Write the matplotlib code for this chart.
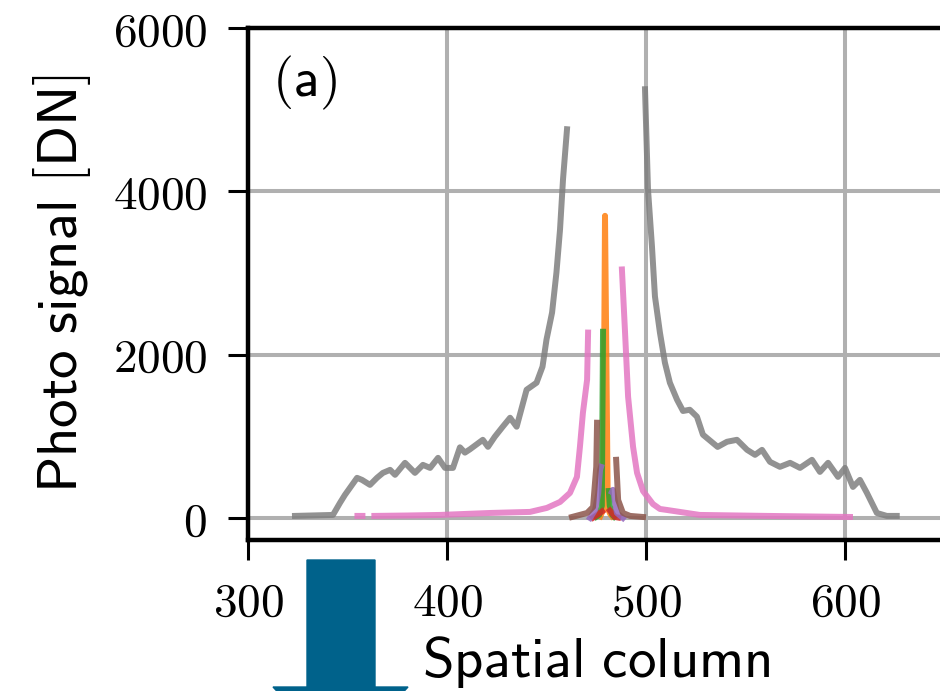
import numpy as np
import matplotlib
matplotlib.use('Agg')
from matplotlib import pyplot as plt
from matplotlib.patches import Polygon

nan = np.nan

# profiles (spatial column, photo signal in DN); nan = masked core
gray_x = [323.6, 342.7, 346.2, 348.7, 354.8, 357.3, 361.3, 364.8, 367.8, 371.4, 373.9, 378.9, 383.9,
          387.9, 391.5, 395.5, 399.0, 403.0, 406.5, 409.0, 411.5, 418.0, 420.6, 424.0, 428.0, 431.7,
          435.0, 440.0, 445.0, 448.0, 450.0, 452.8, 455.0, 456.8, 458.3, 460.3, nan,
          499.5, 501.0, 503.0, 504.5, 507.0, 509.5, 512.0, 515.6, 518.6, 522.0, 525.6, 528.6, 536.0,
          540.7, 545.7, 550.8, 554.8, 558.3, 562.3, 567.3, 572.4, 577.4, 583.4, 587.4, 591.5, 596.5,
          600.0, 604.0, 607.5, 611.0, 616.0, 621.0, 626.0]
gray_y = [25, 37, 184, 282, 491, 466, 405, 491, 552, 589, 528, 675, 552,
          650, 613, 736, 613, 613, 865, 800, 840, 957, 871, 994, 1117, 1227,
          1117, 1570, 1656, 1853, 2184, 2515, 3006, 3534, 4147, 4760, nan,
          5250, 4025, 3325, 2712, 2270, 1902, 1656, 1448, 1310, 1325, 1240, 1020, 870,
          933, 957, 834, 773, 834, 687, 626, 675, 613, 712, 564, 675, 503,
          613, 380, 466, 307, 61, 25, 25]

pink_x = [355.0, 357.5, nan, 363.5, 380.0, 396.5, 421.6, 441.7, 450.2, 456.8, 461.8, 465.3, 466.8,
          468.3, 470.4, 470.9, nan, 487.9, 489.4, 491.0, 493.5, 495.5, 498.5, 503.5, 507.0, 510.5,
          527.0, 560.8, 602.5]
pink_y = [25, 25, nan, 25, 30, 37, 61, 74, 123, 196, 307, 503, 871,
          1288, 1693, 2270, nan, 3043, 2307, 1485, 871, 552, 330, 170, 110, 98,
          37, 25, 12]

orange_x = [477.0, 478.5, 479.4, 480.8, 482.0, 483.0]
orange_y = [20, 100, 3700, 120, 50, 20]

green_x = [475.0, 476.5, 477.8, 478.4, nan, 481.3, 481.8, 483.0, 484.0]
green_y = [15, 40, 150, 2280, nan, 330, 150, 40, 15]

red_x = [473.5, 475.4, 477.9, nan, 481.9, 484.4, 486.0]
red_y = [5, 37, 80, nan, 90, 12, 5]

purple_x = [471.9, 474.4, 476.0, 476.9, 477.4, nan, 482.9, 483.4, 485.4, 488.4]
purple_y = [0, 98, 300, 589, 626, nan, 319, 344, 61, 0]

brown_x = [462.8, 470.4, 473.4, 475.0, 475.4, nan, 485.0, 486.0, 488.4, 492.0, 498.5]
brown_y = [12, 61, 135, 626, 1166, nan, 712, 220, 61, 25, 12]

series = [
    (orange_x, orange_y, 'tab:orange'),
    (green_x, green_y, 'tab:green'),
    (red_x, red_y, 'tab:red'),
    (purple_x, purple_y, 'tab:purple'),
    (brown_x, brown_y, 'tab:brown'),
    (pink_x, pink_y, 'tab:pink'),
    (gray_x, gray_y, 'tab:gray'),
]

xticks = [300, 400, 500, 600]
yticks = [0, 2000, 4000, 6000]

plt.rcParams['mathtext.fontset'] = 'cm'

fig = plt.figure(figsize=(9.4, 6.91), dpi=100)
ax = fig.add_axes([248 / 940, 1 - 540 / 691, 696.5 / 940, 512 / 691])

for x, y, c in series:
    ax.plot(x, y, color=c, lw=4.3, alpha=0.85)

ax.set_xlim(300, 650)
ax.set_ylim(-270, 6000)
ax.set_xticks(xticks, labels=['$%d$' % t for t in xticks])
ax.set_yticks(yticks, labels=['$%d$' % t for t in yticks])
ax.tick_params(labelsize=34, length=14.4, width=2.2, pad=15)
ax.grid(True, color='#b0b0b0', lw=2.9)
for s in ax.spines.values():
    s.set_linewidth(3.2)

ax.set_xlabel(r'$\mathsf{Spatial\ column}$', fontsize=41, labelpad=6)
ax.set_ylabel(r'$\mathsf{Photo\ signal\ [DN]}$', fontsize=41, labelpad=14)
ax.text(0.035, 0.95, r'$\mathsf{(a)}$', transform=ax.transAxes, fontsize=39, va='top')

# big arrow below the axis (cut by the figure edge)
pts = [(307, 560), (375, 560), (375, 687), (408, 687), (341, 760), (273, 687), (307, 687)]
arrow = Polygon([(px / 940, 1 - py / 691) for px, py in pts], closed=True,
                transform=fig.transFigure, facecolor='#00628b', edgecolor='#00628b', clip_on=False)
fig.add_artist(arrow)

fig.savefig('out.png', dpi=100)
